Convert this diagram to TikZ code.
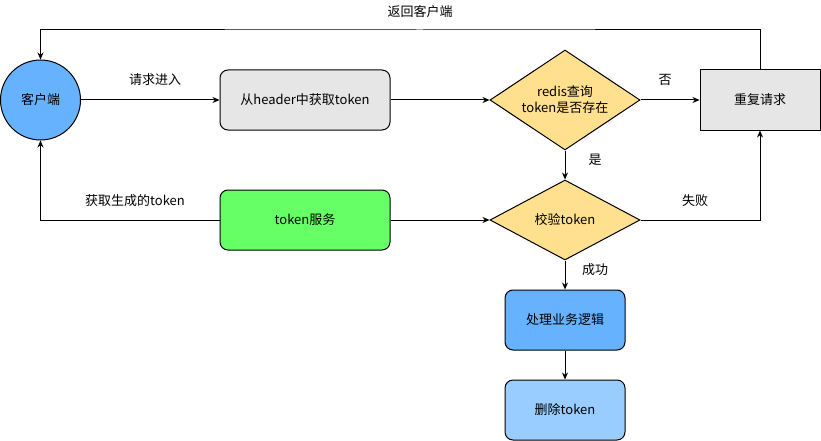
\documentclass[tikz,border=0pt]{standalone}
\usepackage{fontspec}
\setmainfont{Noto Sans CJK SC}
\usetikzlibrary{shapes.geometric,arrows.meta}

\definecolor{clientblue}{HTML}{66B2FF}
\definecolor{boxgray}{HTML}{E6E6E6}
\definecolor{decyellow}{HTML}{FFE08F}
\definecolor{servgreen}{HTML}{66FF66}
\definecolor{lightblue}{HTML}{99CCFF}

\tikzset{
  base/.style={draw, line width=1pt, font=\fontsize{13}{16}\selectfont, align=center},
  client/.style={base, circle, fill=clientblue, minimum size=80pt, inner sep=0pt},
  procbox/.style={base, rounded corners=8pt, minimum width=170pt, minimum height=60pt},
  smallbox/.style={base, rounded corners=8pt, minimum width=120pt, minimum height=60pt},
  decision/.style={base, diamond, fill=decyellow, aspect=1.5, inner sep=0pt},
  flow/.style={line width=1pt, -{Stealth[length=7pt,width=6pt]}},
  lbl/.style={font=\fontsize{13}{16}\selectfont}
}

\begin{document}
\begin{tikzpicture}[x=1pt, y=-1pt]
\useasboundingbox (0,0) rectangle (821,441);
\node[client] (client) at (40.5,100) {客户端};
\node[procbox, fill=boxgray] (header) at (305,100) {从header中获取token};
\node[decision, minimum width=150pt, minimum height=100pt] (redis) at (565,100) {redis查询\\token是否存在};
\node[base, fill=boxgray, minimum width=120pt, minimum height=60pt] (repeat) at (760,100) {重复请求};
\node[procbox, fill=servgreen] (service) at (305,220) {token服务};
\node[decision, minimum width=150pt, minimum height=80pt] (check) at (565,220) {校验token};
\node[smallbox, fill=clientblue] (logic) at (565,320) {处理业务逻辑};
\node[smallbox, fill=lightblue] (delete) at (565,410) {删除token};
\coordinate (back) at (420,30);

\draw[flow] (client) -- (header);
\draw[flow] (header) -- (redis);
\draw[flow] (redis) -- (repeat);
\draw[flow] (redis) -- (check);
\draw[flow] (service) -- (check);
\draw[flow] (service.west) -| (client.south);
\draw[flow] (repeat.north) |- (back) -| (client.north);
\draw[flow] (check.east) -| (repeat.south);
\draw[flow] (check) -- (logic);
\draw[flow] (logic) -- (delete);

\node[lbl] (lin) at (155,80) {请求进入};
\node[lbl] (lno) at (665,80) {否};
\node[lbl] (lyes) at (595,160) {是};
\node[lbl] (lfail) at (695,201) {失败};
\node[lbl] (lok) at (595,270) {成功};
\node[lbl] (lget) at (135,201) {获取生成的token};
\node[lbl] (lback) at (420,12) {返回客户端};
\end{tikzpicture}
\end{document}
